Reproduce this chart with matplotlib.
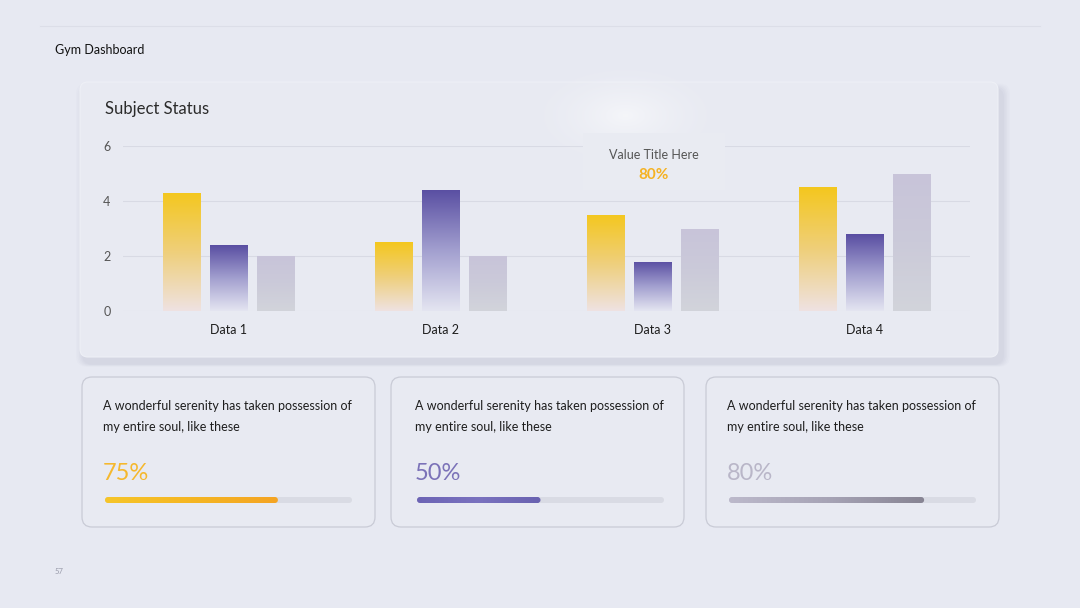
import matplotlib
matplotlib.use('Agg')
import matplotlib.pyplot as plt
import matplotlib.colors as mcol
from matplotlib.patches import FancyBboxPatch, Rectangle
import numpy as np

# data
categories = ['Data 1', 'Data 2', 'Data 3', 'Data 4']
series_yellow = [4.3, 2.5, 3.5, 4.5]
series_purple = [2.4, 4.4, 1.8, 2.8]
series_gray = [2.0, 2.0, 3.0, 5.0]
y_ticks = [0, 2, 4, 6]

card_labels = ['75%', '50%', '80%']
card_fill = [0.70, 0.50, 0.79]
card_text = 'A wonderful serenity has taken possession of\nmy entire soul, like these'

tooltip_title = 'Value Title Here'
tooltip_value = '80%'

########################################################################

plt.rcParams['font.family'] = ['Lato', 'DejaVu Sans']

BG = '#e7e9f2'
W, H = 1080, 608

fig = plt.figure(figsize=(W / 100, H / 100), dpi=100, facecolor=BG)

# background axes in pixel coordinates
bg = fig.add_axes([0, 0, 1, 1], zorder=0)
bg.set_xlim(0, W)
bg.set_ylim(H, 0)
bg.axis('off')

bg.plot([40, 1040], [26, 26], color='#dcdee8', lw=0.8)
bg.text(55, 50, 'Gym Dashboard', fontsize=9, color='#111111', va='center')
bg.text(55, 572, '57', fontsize=5.5, color='#9a9cab', va='center')

# chart card with soft shadow
for i, a in enumerate([0.02, 0.025, 0.03, 0.035, 0.04]):
    pad = 16 - i * 3
    bg.add_patch(FancyBboxPatch((80 + 4 - pad / 2, 82 + 7 - pad / 3), 918 + pad, 275 + pad / 2,
                                boxstyle='round,pad=0,rounding_size=10',
                                fc='#7a7f99', ec='none', alpha=a))
bg.add_patch(FancyBboxPatch((80, 82), 918, 275, boxstyle='round,pad=0,rounding_size=8',
                            fc='#e8eaf2', ec='#eef0f6', lw=0.8))
bg.text(105, 109, 'Subject Status', fontsize=12, color='#2b2b2b', va='center')

# bottom cards
card_x = [82, 391, 706]
text_x = [103, 415, 727]
card_col = ['#f5b82e', '#7b72b8', '#b9b6c8']
fill_cmaps = [
    mcol.LinearSegmentedColormap.from_list('y', ['#f6c52a', '#f5b623', '#f4a424']),
    mcol.LinearSegmentedColormap.from_list('p', ['#6c64b5', '#7a72bf', '#6962b0']),
    mcol.LinearSegmentedColormap.from_list('g', ['#bcb9cb', '#a7a4b6', '#878493']),
]
for i in range(3):
    x0 = card_x[i]
    t0 = text_x[i]
    bg.add_patch(FancyBboxPatch((x0, 377), 293, 150, boxstyle='round,pad=0,rounding_size=10',
                                fc='#e8eaf2', ec='#c9cbd6', lw=0.9))
    bg.text(t0, 406, card_text.split('\n')[0], fontsize=9, color='#1e1e1e', va='center')
    bg.text(t0, 427, card_text.split('\n')[1], fontsize=9, color='#1e1e1e', va='center')
    bg.text(t0, 474, card_labels[i], fontsize=17, color=card_col[i], va='center')
    tx0, tx1 = t0 + 2, t0 + 249
    bg.add_patch(FancyBboxPatch((tx0, 497), tx1 - tx0, 6, boxstyle='round,pad=0,rounding_size=3',
                                fc='#d9dbe4', ec='none', zorder=1))
    fx1 = tx0 + (tx1 - tx0) * card_fill[i]
    clip = FancyBboxPatch((tx0, 497), fx1 - tx0, 6, boxstyle='round,pad=0,rounding_size=3',
                          fc='none', ec='none')
    bg.add_patch(clip)
    g = np.linspace(0, 1, 256).reshape(1, -1)
    im = bg.imshow(g, cmap=fill_cmaps[i], extent=[tx0, fx1, 503, 497], aspect='auto', zorder=2)
    im.set_clip_path(clip)
bg.set_xlim(0, W)
bg.set_ylim(H, 0)

# chart axes
ax = fig.add_axes([123 / W, 1 - 311 / H, (970 - 123) / W, (311 - 146) / H], zorder=2)
ax.patch.set_alpha(0)
for s in ax.spines.values():
    s.set_visible(False)

x = np.arange(len(categories))
bw = 0.175
off = 0.222
bar_sets = [
    (series_yellow, -off, ['#eee2e2', '#efcf7a', '#f4c71e']),
    (series_purple, 0, ['#e4e5f1', '#a29fcf', '#594ea2']),
    (series_gray, off, ['#d2d4db', '#cbcad9', '#c8c4da']),
]
grad = np.linspace(0, 1, 256).reshape(-1, 1)
for vals, dx, cols in bar_sets:
    cmap = mcol.LinearSegmentedColormap.from_list('bar', cols)
    bars = ax.bar(x + dx, vals, width=bw, color='none', edgecolor='none', zorder=2)
    for p in bars:
        bx, bwid, bh = p.get_x(), p.get_width(), p.get_height()
        im = ax.imshow(grad, cmap=cmap, origin='lower', extent=[bx, bx + bwid, 0, bh],
                       aspect='auto', zorder=2)
        im.set_clip_path(p)

ax.set_xlim(-0.5, 3.5)
ax.set_ylim(0, 6)
ax.set_yticks(y_ticks)
ax.set_xticks(x)
ax.set_xticklabels(categories, fontsize=9, color='#1e1e1e')
ax.tick_params(axis='y', length=0, pad=9, labelsize=9, labelcolor='#555555')
ax.tick_params(axis='x', length=0, pad=9.5)
ax.grid(axis='y', color='#d8dae4', lw=0.8, zorder=0)
ax.set_axisbelow(True)

# overlay: glow and tooltip
ov = fig.add_axes([0, 0, 1, 1], zorder=3)
ov.set_xlim(0, W)
ov.set_ylim(H, 0)
ov.axis('off')
gy, gx = np.mgrid[0:140, 0:240]
r = np.sqrt(((gx - 120) / 110.0) ** 2 + ((gy - 70) / 60.0) ** 2)
glow = np.zeros((140, 240, 4))
glow[..., :3] = 1.0
glow[..., 3] = np.clip(1 - r, 0, 1) ** 1.8 * 0.55
ov.imshow(glow, extent=[505, 745, 185, 45], aspect='auto', zorder=1)
ov.add_patch(Rectangle((583, 133), 142, 57, fc='#e9ebf2', ec='none', zorder=2))
ov.text(654, 155, tooltip_title, fontsize=9, color='#555555', ha='center', va='center', zorder=3)
ov.text(654, 175, tooltip_value, fontsize=11, color='#f5b223', fontweight='bold',
        ha='center', va='center', zorder=3)
ov.set_xlim(0, W)
ov.set_ylim(H, 0)

fig.savefig('out.png', dpi=100, facecolor=BG)
